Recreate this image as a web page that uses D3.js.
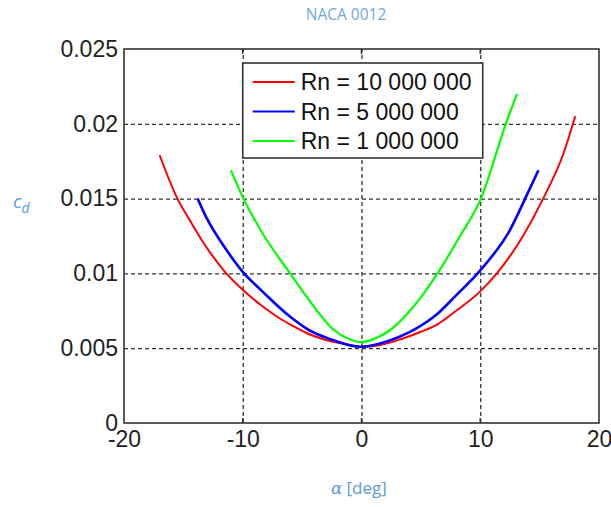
<!DOCTYPE html>
<html>
<head>
<meta charset="utf-8">
<script src="https://cdn.jsdelivr.net/npm/d3@7"></script>
<style>
  body { margin: 0; background: #fff; }
  .tick text { font-family: "Liberation Sans", Arial, sans-serif; font-size: 23px; fill: #222; }
  .grid line { stroke: #333; stroke-width: 1.3; stroke-dasharray: 4,3; }
  .grid path { display: none; }
</style>
</head>
<body>
<svg id="chart"></svg>
<script>
// angle of attack [deg] and drag coefficient per Reynolds number
const alpha10M = [-17, -15.5, -14.5, -13.1, -11.5, -10, -8.5, -7.1, -5.8, -4.6, -3.2, -1.5, 0, 1.5, 3.3, 5, 6.4, 7.8, 10, 11.4, 13.6, 15.3, 17, 18];
const cd10M = [0.0179, 0.0150, 0.0136, 0.0118, 0.0101, 0.0089, 0.0079, 0.0071, 0.0065, 0.0060, 0.0056, 0.0053, 0.0051, 0.0052, 0.0056, 0.0061, 0.0066, 0.0074, 0.0088, 0.0100, 0.0125, 0.0150, 0.0180, 0.0205];

const alpha5M = [-13.8, -13.1, -11.4, -10, -8.35, -6, -4.4, -2.6, -1, 0, 1.5, 3, 5, 6.4, 7.8, 10, 12.5, 13.9, 14.9];
const cd5M = [0.0150, 0.0138, 0.0116, 0.0101, 0.0088, 0.0071, 0.0062, 0.0056, 0.0052, 0.0051, 0.0053, 0.0057, 0.0065, 0.0073, 0.0084, 0.0102, 0.0129, 0.0152, 0.0169];

const alpha1M = [-11, -10, -8.35, -6.1, -4.4, -2.3, -1, 0, 1, 2.4, 4.4, 5, 6.4, 8.3, 10, 12.2, 13.1];
const cd1M = [0.0169, 0.0151, 0.0127, 0.0101, 0.0082, 0.0062, 0.0056, 0.0054, 0.0056, 0.0062, 0.0078, 0.0084, 0.0100, 0.0125, 0.0149, 0.0201, 0.0220];

const seriesNames = ['Rn = 10 000 000', 'Rn = 5 000 000', 'Rn = 1 000 000'];
const seriesColors = ['#ff0000', '#0000ff', '#00ff00'];
const seriesWidths = [2, 2.6, 2.2];
const xTicks = [-20, -10, 0, 10, 20];
const yTicks = [0, 0.005, 0.01, 0.015, 0.02, 0.025];

const series = [
  {name: seriesNames[0], color: seriesColors[0], w: seriesWidths[0], pts: alpha10M.map((a, i) => [a, cd10M[i]])},
  {name: seriesNames[1], color: seriesColors[1], w: seriesWidths[1], pts: alpha5M.map((a, i) => [a, cd5M[i]])},
  {name: seriesNames[2], color: seriesColors[2], w: seriesWidths[2], pts: alpha1M.map((a, i) => [a, cd1M[i]])}
];

let svg = d3.select('#chart')
    .attr('width', 611)
    .attr('height', 507),
  margin = {top: 49, right: 12, bottom: 84, left: 124},
  width = +svg.attr('width') - margin.left - margin.right,
  height = +svg.attr('height') - margin.top - margin.bottom;

svg.append('rect').attr('width', 611).attr('height', 507).attr('fill', '#fff');

let viewport = svg.append('g')
  .attr('transform', 'translate(' + margin.left + ',' + margin.top + ')');

let xScale = d3.scaleLinear().domain([-20, 20]).range([0, width]);
let yScale = d3.scaleLinear().domain([0, 0.025]).range([height, 0]);

// dashed grid
viewport.append('g')
  .attr('class', 'grid')
  .attr('transform', 'translate(0,' + height + ')')
  .call(d3.axisBottom(xScale).tickValues(xTicks.slice(1, -1)).tickSize(-height).tickFormat(''));

viewport.append('g')
  .attr('class', 'grid')
  .call(d3.axisLeft(yScale).tickValues(yTicks.slice(1, -1)).tickSize(-width).tickFormat(''));

// small inward ticks on top and bottom
[0, height].forEach(y => {
  viewport.append('g')
    .selectAll('line')
    .data(xTicks.slice(1, -1))
    .enter().append('line')
    .attr('x1', d => xScale(d)).attr('x2', d => xScale(d))
    .attr('y1', y).attr('y2', y === 0 ? 5 : height - 5)
    .attr('stroke', '#333').attr('stroke-width', 1.5);
});

// curves
let line = d3.line()
  .x(d => xScale(d[0]))
  .y(d => yScale(d[1]))
  .curve(d3.curveMonotoneX);

viewport.append('g')
  .selectAll('path')
  .data(series)
  .enter().append('path')
  .attr('d', d => line(d.pts))
  .attr('fill', 'none')
  .attr('stroke', d => d.color)
  .attr('stroke-width', d => d.w);

// axis frame
viewport.append('rect')
  .attr('width', width).attr('height', height)
  .attr('fill', 'none').attr('stroke', '#333').attr('stroke-width', 1.6);

// tick labels
let xAxis = viewport.append('g')
  .attr('transform', 'translate(0,' + height + ')')
  .call(d3.axisBottom(xScale).tickValues(xTicks).tickSize(0).tickPadding(8).tickFormat(d => String(d)));
xAxis.select('.domain').remove();

let yAxis = viewport.append('g')
  .call(d3.axisLeft(yScale).tickValues(yTicks).tickSize(0).tickPadding(6)
    .tickFormat(d => d === 0 ? '0' : String(+d.toFixed(3))));
yAxis.select('.domain').remove();

// legend
let legend = viewport.append('g')
  .attr('transform', 'translate(' + (xScale(-10)) + ',14)');

legend.append('rect')
  .attr('width', 240).attr('height', 95)
  .attr('fill', '#fff').attr('stroke', '#333').attr('stroke-width', 1.6);

let rows = legend.selectAll('.row')
  .data(series)
  .enter().append('g')
  .attr('transform', (d, i) => 'translate(0,' + (19 + i * 29.5) + ')');

rows.append('line')
  .attr('x1', 10).attr('x2', 52)
  .attr('stroke', d => d.color).attr('stroke-width', 2.2);

rows.append('text')
  .attr('x', 58).attr('dy', '0.35em')
  .style('font-family', '"Liberation Sans", Arial, sans-serif')
  .style('font-size', '23px')
  .attr('fill', '#111')
  .text(d => d.name);

// titles
svg.append('text')
  .attr('x', 346).attr('y', 20)
  .attr('text-anchor', 'middle')
  .style('font-family', '"Open Sans", sans-serif')
  .style('font-size', '15.5px')
  .attr('fill', '#6fa8dc')
  .text('NACA 0012');

let xl = svg.append('text')
  .attr('x', 331).attr('y', 494)
  .style('font-family', '"Open Sans", sans-serif')
  .style('font-size', '17px')
  .attr('fill', '#5b9bd5');
xl.append('tspan').style('font-style', 'italic').style('font-family', '"DejaVu Serif", serif').text('α');
xl.append('tspan').attr('dx', 4).text('[deg]');

let yl = svg.append('text')
  .attr('x', 13).attr('y', 208)
  .style('font-family', '"Open Sans", sans-serif')
  .style('font-style', 'italic')
  .style('font-size', '19px')
  .attr('fill', '#5b9bd5');
yl.append('tspan').text('c');
yl.append('tspan').attr('dy', 5).style('font-size', '14px').text('d');
</script>
</body>
</html>
